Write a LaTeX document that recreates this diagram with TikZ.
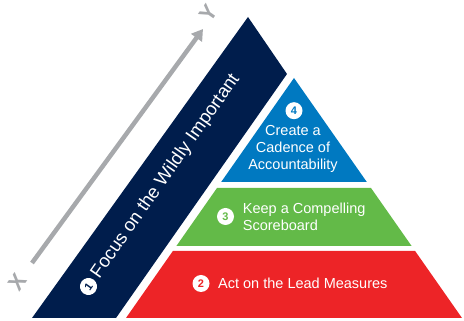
\documentclass[tikz,border=0pt]{standalone}
\usepackage{fontspec}
\setmainfont{Liberation Sans}
\usetikzlibrary{arrows.meta,calc}
\definecolor{navy}{RGB}{0,29,76}
\definecolor{tierblue}{RGB}{0,121,193}
\definecolor{tiergreen}{RGB}{99,186,72}
\definecolor{tierred}{RGB}{237,36,39}
\definecolor{axisgrey}{RGB}{167,169,172}
\tikzset{
num/.style={circle,fill=white,inner sep=0pt,minimum size=17pt,font=\fontsize{11}{11}\selectfont\bfseries},
lbl/.style={text=white,inner sep=0pt,font=\fontsize{14.5}{17.3}\selectfont},
axislbl/.style={text=axisgrey,inner sep=0pt,rotate=55,font=\fontsize{22}{22}\selectfont\bfseries}
}
\begin{document}
\begin{tikzpicture}[x=1pt,y=1pt]
\useasboundingbox (0,0) rectangle (464,321);
\coordinate (xend) at (32,58);
\coordinate (ytip) at (203,292);
\draw[axisgrey,line width=4.5pt,-{Triangle[width=13pt,length=11pt]}] (xend) -- (ytip);
\node[axislbl] (xl) at (18,39) {X};
\node[axislbl] (yl) at (209,308) {Y};
\fill[navy] (32,3) -- (248,304) -- (287,247) -- (116,3) -- cycle;
\fill[tierblue] (221.2,139) -- (366.8,139) -- (294,243) -- cycle;
\fill[tiergreen] (176.4,75) -- (411.6,75) -- (371,133) -- (217,133) -- cycle;
\fill[tierred] (126,3) -- (462,3) -- (415.1,70) -- (172.9,70) -- cycle;
\node[num,text=navy,rotate=55] (n1) at (88.5,34.5) {1};
\node[lbl,rotate=55,anchor=west,font=\fontsize{18.5}{20}\selectfont] (t1) at ($(n1)+(55:12)$) {Focus on the Wildly Important};
\node[num,text=tierred] (n2) at (201,37.5) {2};
\node[lbl,anchor=base west] (t2) at (218,32) {Act on the Lead Measures};
\node[num,text=tiergreen] (n3) at (225.5,104.5) {3};
\node[lbl,anchor=west,align=left] (t3) at (242.7,104.3) {Keep a Compelling\\Scoreboard};
\node[num,text=tierblue] (n4) at (294,210.3) {4};
\node[lbl,align=center] (t4) at (293,172) {Create a\\Cadence of\\Accountability};
\end{tikzpicture}
\end{document}
